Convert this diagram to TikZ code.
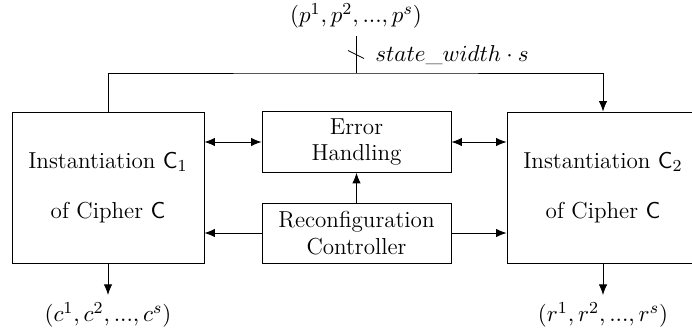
\documentclass[tikz,border=0pt]{standalone}
\usepackage{tikz}
\usetikzlibrary{positioning, arrows.meta, calc}

\begin{document}
\begin{tikzpicture}[
    x=0.476pt, y=-0.476pt,
    every node/.style={font=\fontsize{11}{12.5}\selectfont},
    cipher/.style={draw, align=center, minimum width=91.4pt, minimum height=71.9pt},
    box/.style={draw, align=center, minimum width=90pt, minimum height=28.6pt},
    arr/.style={-{Latex[length=5pt, width=4pt]}},
    bi/.style={{Latex[length=5pt, width=4pt]}-{Latex[length=5pt, width=4pt]}}
  ]
  \clip (0,0) rectangle (692,332);
  \node[cipher] (ci1)  at (108,187.5) {Instantiation $\mathsf{C}_1$\\[11.3pt] of Cipher $\mathsf{C}$};
  \node[cipher] (ci2)  at (603,187.5) {Instantiation $\mathsf{C}_2$\\[11.3pt] of Cipher $\mathsf{C}$};
  \node[box]    (err)  at (356.5,142) {Error\\Handling};
  \node[box]    (ctrl) at (356.5,233) {Reconfiguration\\Controller};

  \node[anchor=south] (pin)  at (356,36)  {$(p^1, p^2, ..., p^s)$};
  \node[anchor=north] (cout) at (108,295) {$(c^1, c^2, ..., c^s)$};
  \node[anchor=north] (rout) at (603,295) {$(r^1, r^2, ..., r^s)$};
  \coordinate (bus) at (356,73);

  % input bus
  \draw (pin.south) -- (bus);
  \draw ($(pin.south)!0.5!(bus)$) ++(-8,-4) -- ++(16,8);
  \node[anchor=west] (width) at (368,55) {$state\_width \cdot s$};
  \draw[arr] (ci1.north) |- (bus) -| (ci2.north);

  % control and error paths
  \draw[bi]  (ci1.east |- err) -- (err.west);
  \draw[bi]  (err.east) -- (ci2.west |- err);
  \draw[arr] (ctrl.west) -- (ci1.east |- ctrl);
  \draw[arr] (ctrl.east) -- (ci2.west |- ctrl);
  \draw[arr] (ctrl.north) -- (err.south);

  % outputs
  \draw[arr] (ci1.south) -- (cout.north);
  \draw[arr] (ci2.south) -- (rout.north);
\end{tikzpicture}
\end{document}
